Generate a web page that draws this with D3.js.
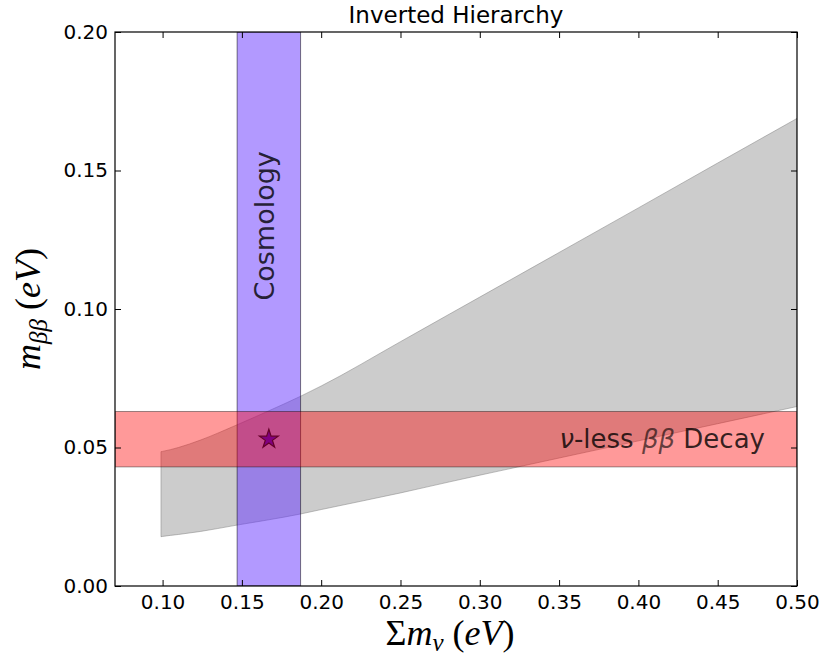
<!DOCTYPE html>
<html>
<head>
<meta charset="utf-8">
<script src="https://cdn.jsdelivr.net/npm/d3@7"></script>
<style>
  body { margin: 0; background: #fff; }
  svg { display: block; }
</style>
</head>
<body>
<svg id="chart" width="826" height="658" font-family="DejaVu Sans, sans-serif"></svg>
<script>
// ---- data ----
const titleText = "Inverted Hierarchy";
const xTicks = [0.10, 0.15, 0.20, 0.25, 0.30, 0.35, 0.40, 0.45, 0.50];
const yTicks = [0.00, 0.05, 0.10, 0.15, 0.20];
const sumMass = [0.099, 0.100, 0.110, 0.124, 0.145, 0.166, 0.187, 0.200, 0.250, 0.281, 0.300, 0.350, 0.400, 0.450, 0.500];
const mbbUpper = [0.0485, 0.0486, 0.0500, 0.0527, 0.0577, 0.0630, 0.0685, 0.0722, 0.0882, 0.0982, 0.1043, 0.1204, 0.1365, 0.1527, 0.1688];
const mbbLower = [0.0178, 0.0179, 0.0186, 0.0197, 0.0218, 0.0238, 0.0260, 0.0276, 0.0336, 0.0376, 0.0400, 0.0462, 0.0524, 0.0586, 0.0648];
const cosmologyBand = [0.147, 0.187];
const decayBand = [0.043, 0.063];
const bestFit = [0.167, 0.053];
const cosmologyLabel = "Cosmology";
const cosmologyLabelPos = [0.167, 0.130];
const decayLabelPos = [0.415, 0.053];

// ---- layout ----
const W = 826, H = 658;
const m = { left: 115, right: 29, top: 32, bottom: 72 };
const svg = d3.select("#chart");
const x = d3.scaleLinear().domain([0.07, 0.50]).range([m.left, W - m.right]);
const y = d3.scaleLinear().domain([0.00, 0.20]).range([H - m.bottom, m.top]);
const serif = "Liberation Serif, DejaVu Serif, serif";

const plot = svg.append("g");
plot.append("clipPath").attr("id", "clip").append("rect")
  .attr("x", m.left).attr("y", m.top)
  .attr("width", W - m.left - m.right).attr("height", H - m.top - m.bottom);
const g = plot.append("g").attr("clip-path", "url(#clip)");

// grey allowed region
const region = sumMass.map((s, i) => ({ s, lo: mbbLower[i], hi: mbbUpper[i] }));
const area = d3.area()
  .x(d => x(d.s)).y0(d => y(d.lo)).y1(d => y(d.hi))
  .curve(d3.curveMonotoneX);
g.append("path").datum(region).attr("d", area)
  .attr("fill", "rgb(128,128,128)").attr("fill-opacity", 0.4)
  .attr("stroke", "rgb(128,128,128)").attr("stroke-opacity", 0.5).attr("stroke-width", 1);

// cosmology vertical band
g.append("rect")
  .attr("x", x(cosmologyBand[0])).attr("width", x(cosmologyBand[1]) - x(cosmologyBand[0]))
  .attr("y", y(0.20)).attr("height", y(0) - y(0.20))
  .attr("fill", "rgb(102,51,255)").attr("fill-opacity", 0.5)
  .attr("stroke", "#000").attr("stroke-opacity", 0.5).attr("stroke-width", 1);

// decay horizontal band
g.append("rect")
  .attr("x", x(0.07)).attr("width", x(0.50) - x(0.07))
  .attr("y", y(decayBand[1])).attr("height", y(decayBand[0]) - y(decayBand[1]))
  .attr("fill", "rgb(255,0,0)").attr("fill-opacity", 0.4)
  .attr("stroke", "#000").attr("stroke-opacity", 0.4).attr("stroke-width", 1);

// best-fit star
g.append("path")
  .attr("d", d3.symbol().type(d3.symbolStar).size(110)())
  .attr("transform", `translate(${x(bestFit[0])},${y(bestFit[1])})`)
  .attr("fill", "rgb(128,0,128)").attr("stroke", "rgb(100,0,40)").attr("stroke-width", 1.2);

// labels inside
svg.append("text")
  .attr("transform", `translate(${x(cosmologyLabelPos[0]) + 5},${y(cosmologyLabelPos[1])}) rotate(-90)`)
  .attr("text-anchor", "middle")
  .attr("font-size", 27).attr("fill", "#000").attr("fill-opacity", 0.8)
  .text(cosmologyLabel);

const dl = svg.append("text")
  .attr("x", x(decayLabelPos[0])).attr("y", y(decayLabelPos[1]) + 9)
  .attr("text-anchor", "middle")
  .attr("font-size", 26).attr("fill", "#000").attr("fill-opacity", 0.8);
dl.append("tspan").attr("font-style", "italic").text("ν");
dl.append("tspan").text("-less ");
dl.append("tspan").attr("font-style", "italic").attr("fill-opacity", 0.6).text("ββ");
dl.append("tspan").text(" Decay");

// axes
const tick = 6;
const fmt = d3.format(".2f");
const ax = (sel) => { sel.select(".domain").remove(); sel.selectAll(".tick line").attr("stroke", "#000"); };
const lbl = (s) => s.selectAll("text").attr("font-size", 20).attr("font-family", "DejaVu Sans").attr("fill", "#000");

svg.append("g").attr("transform", `translate(0,${y(0)})`)
  .call(d3.axisBottom(x).tickValues(xTicks).tickFormat(fmt).tickSizeInner(-tick).tickSizeOuter(0).tickPadding(9))
  .call(ax).call(lbl);
svg.append("g").attr("transform", `translate(0,${y(0.20)})`)
  .call(d3.axisTop(x).tickValues(xTicks).tickFormat("").tickSizeInner(-tick).tickSizeOuter(0))
  .call(ax);
svg.append("g").attr("transform", `translate(${x(0.07)},0)`)
  .call(d3.axisLeft(y).tickValues(yTicks).tickFormat(fmt).tickSizeInner(-tick).tickSizeOuter(0).tickPadding(7))
  .call(ax).call(lbl);
svg.append("g").attr("transform", `translate(${x(0.50)},0)`)
  .call(d3.axisRight(y).tickValues(yTicks).tickFormat("").tickSizeInner(-tick).tickSizeOuter(0))
  .call(ax);

// frame
svg.append("rect")
  .attr("x", x(0.07)).attr("y", y(0.20))
  .attr("width", x(0.50) - x(0.07)).attr("height", y(0) - y(0.20))
  .attr("fill", "none").attr("stroke", "#000").attr("stroke-width", 1.2);

// title
svg.append("text").attr("x", (x(0.07) + x(0.50)) / 2).attr("y", 23)
  .attr("text-anchor", "middle").attr("font-size", 23).attr("fill", "#000")
  .text(titleText);

// x label
const xl = svg.append("text").attr("x", 450).attr("y", 645)
  .attr("text-anchor", "middle").attr("font-size", 36)
  .attr("font-family", serif).attr("fill", "#000");
xl.append("tspan").text("Σ");
xl.append("tspan").attr("font-style", "italic").text("m");
xl.append("tspan").attr("font-style", "italic").attr("font-size", 25).attr("dy", 6).text("ν");
xl.append("tspan").attr("dy", -6).text(" (");
xl.append("tspan").attr("font-style", "italic").text("eV");
xl.append("tspan").text(")");

// y label
const yl = svg.append("text")
  .attr("transform", `translate(40,${(y(0) + y(0.20)) / 2}) rotate(-90)`)
  .attr("text-anchor", "middle").attr("font-size", 36)
  .attr("font-family", serif).attr("fill", "#000");
yl.append("tspan").attr("font-style", "italic").text("m");
yl.append("tspan").attr("font-style", "italic").attr("font-size", 25).attr("dy", 7).text("ββ");
yl.append("tspan").attr("dy", -7).text(" (");
yl.append("tspan").attr("font-style", "italic").text("eV");
yl.append("tspan").text(")");
</script>
</body>
</html>
